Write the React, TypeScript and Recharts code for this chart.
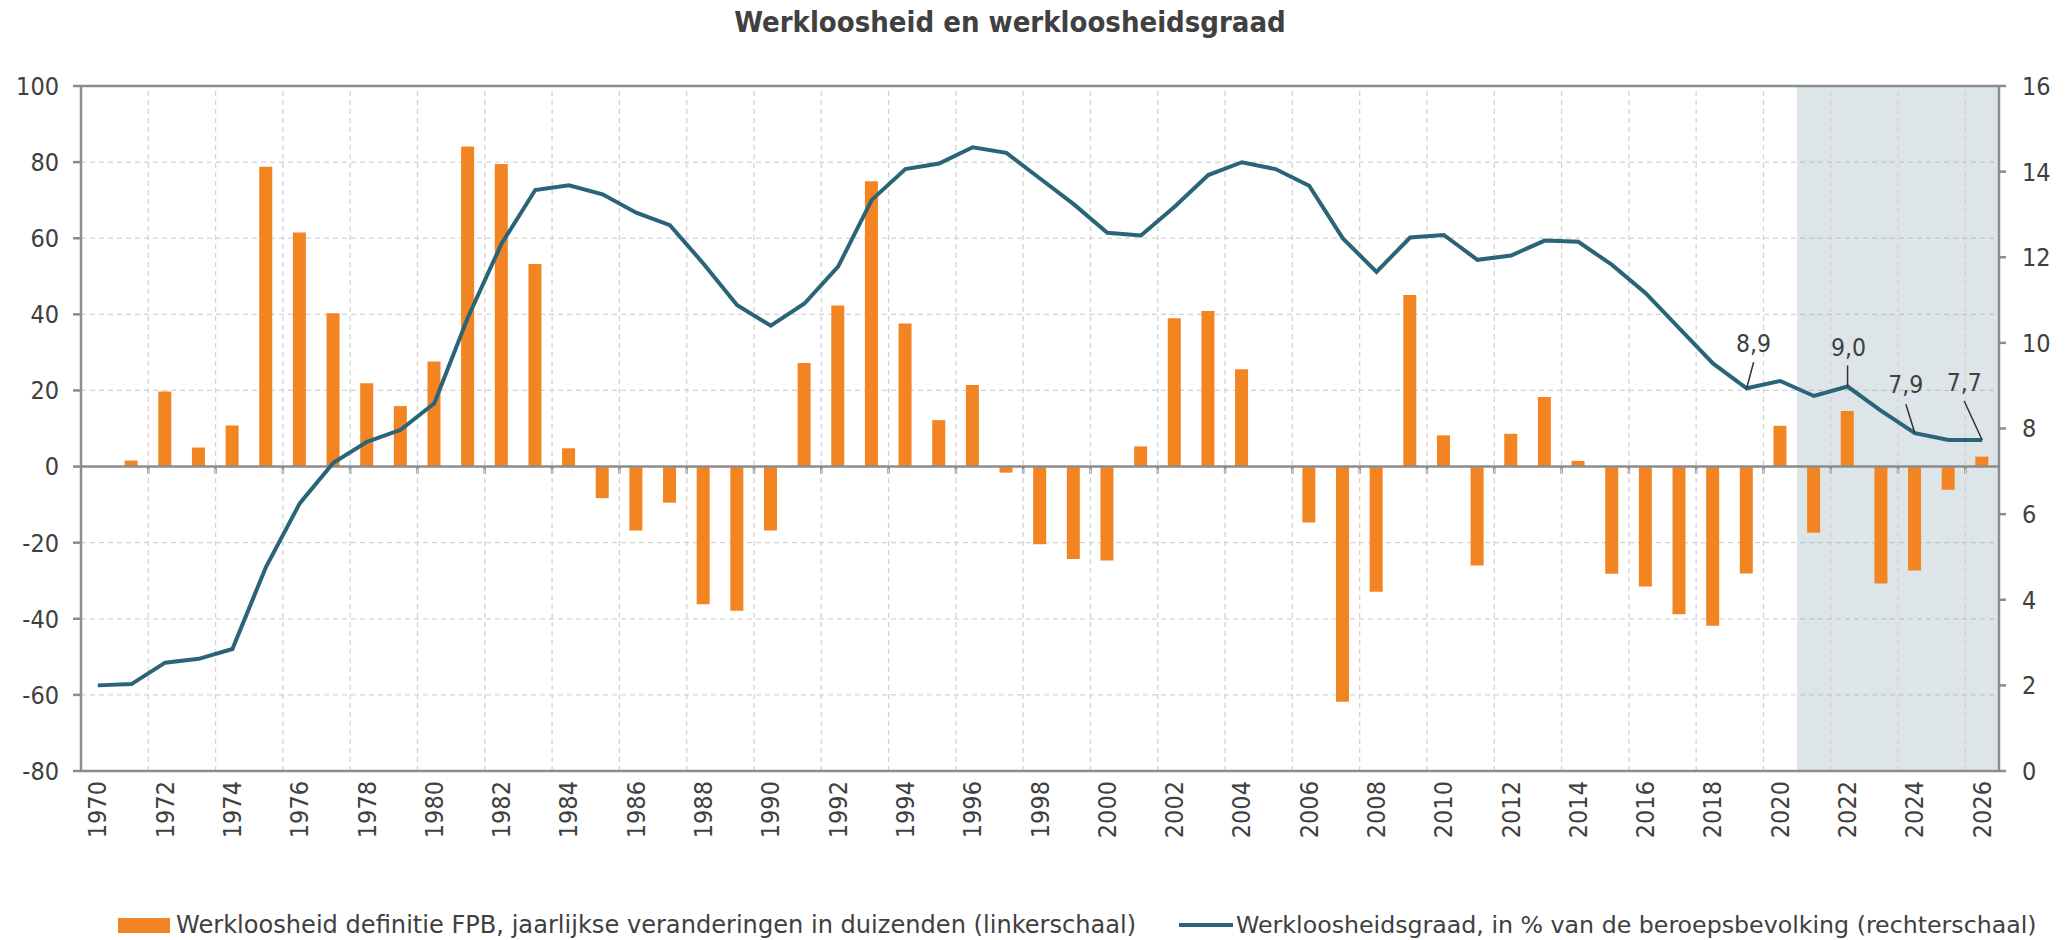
import React from 'react';
import {
  ComposedChart, Bar, Line, XAxis, YAxis, CartesianGrid, ReferenceArea, ReferenceLine,
} from 'recharts';

const years = [
  1970, 1971, 1972, 1973, 1974, 1975, 1976, 1977, 1978, 1979,
  1980, 1981, 1982, 1983, 1984, 1985, 1986, 1987, 1988, 1989,
  1990, 1991, 1992, 1993, 1994, 1995, 1996, 1997, 1998, 1999,
  2000, 2001, 2002, 2003, 2004, 2005, 2006, 2007, 2008, 2009,
  2010, 2011, 2012, 2013, 2014, 2015, 2016, 2017, 2018, 2019,
  2020, 2021, 2022, 2023, 2024, 2025, 2026,
];

// Werkloosheid definitie FPB, jaarlijkse veranderingen in duizenden
const changeThousands: (number | null)[] = [
  null, 1.6, 19.7, 5.0, 10.8, 78.8, 61.5, 40.3, 21.9, 15.9,
  27.6, 84.1, 79.5, 53.2, 4.8, -8.3, -16.8, -9.5, -36.2, -37.9,
  -16.8, 27.2, 42.3, 75.0, 37.6, 12.2, 21.4, -1.6, -20.4, -24.3,
  -24.7, 5.3, 39.0, 40.9, 25.6, 0, -14.7, -61.8, -32.9, 45.1,
  8.2, -26.0, 8.6, 18.3, 1.5, -28.2, -31.5, -38.8, -41.8, -28.1,
  10.7, -17.4, 14.6, -30.7, -27.3, -6.1, 2.6,
];

// Werkloosheidsgraad, in % van de beroepsbevolking
const unemploymentRate = [
  2.0, 2.03, 2.53, 2.62, 2.85, 4.77, 6.25, 7.2, 7.69, 7.97,
  8.59, 10.6, 12.32, 13.57, 13.68, 13.47, 13.04, 12.75, 11.85, 10.88,
  10.4, 10.92, 11.78, 13.34, 14.06, 14.19, 14.57, 14.44, 13.84, 13.24,
  12.57, 12.51, 13.18, 13.92, 14.22, 14.06, 13.67, 12.44, 11.66, 12.46,
  12.52, 11.94, 12.04, 12.39, 12.36, 11.82, 11.16, 10.34, 9.52, 8.94,
  9.11, 8.76, 8.98, 8.41, 7.89, 7.73, 7.73,
];

const noteYears = [2019, 2022, 2024, 2026];
const noteLabels = ['8,9', '9,0', '7,9', '7,7'];

const leftTicks = [-80, -60, -40, -20, 0, 20, 40, 60, 80, 100];
const rightTicks = [0, 2, 4, 6, 8, 10, 12, 14, 16];
const labelYears = [
  1970, 1972, 1974, 1976, 1978, 1980, 1982, 1984, 1986, 1988, 1990, 1992, 1994, 1996,
  1998, 2000, 2002, 2004, 2006, 2008, 2010, 2012, 2014, 2016, 2018, 2020, 2022, 2024, 2026,
];
const gridYears = [
  1971.5, 1973.5, 1975.5, 1977.5, 1979.5, 1981.5, 1983.5, 1985.5, 1987.5, 1989.5,
  1991.5, 1993.5, 1995.5, 1997.5, 1999.5, 2001.5, 2003.5, 2005.5, 2007.5, 2009.5,
  2011.5, 2013.5, 2015.5, 2017.5, 2019.5, 2021.5, 2023.5, 2025.5,
];
const forecastStart = 2020.5;
const forecastEnd = 2026.5;

const title = 'Werkloosheid en werkloosheidsgraad';
const barName = 'Werkloosheid definitie FPB, jaarlijkse veranderingen in duizenden (linkerschaal)';
const lineName = 'Werkloosheidsgraad, in % van de beroepsbevolking (rechterschaal)';

const data = years.map((year, i) => {
  const k = noteYears.indexOf(year);
  return {
    year,
    change: changeThousands[i],
    rate: unemploymentRate[i],
    note: k >= 0 ? noteLabels[k] : null,
  };
});

// styling of the annotation callouts (pixel offsets from the point)
const noteStyle: Record<number, { lx: number; ly: number; tx: number; ty: number }> = {
  2019: { lx: 7, ly: -26, tx: 7, ty: -36 },
  2022: { lx: 0, ly: -21, tx: 1, ty: -31 },
  2024: { lx: -9, ly: -29, tx: -9, ty: -40 },
  2026: { lx: -18, ly: -39, tx: -18, ty: -49 },
};

const FONT = '"DejaVu Sans Condensed", "DejaVu Sans", sans-serif';
const LEGEND_FONT = '"DejaVu Sans", sans-serif';
const TEXT = '#404040';
const AXIS = '#8c8c8c';
const GRID = '#d3d3d3';
const ORANGE = '#F38422';
const TEAL = '#2A6479';

const XTick = (props: any) => {
  const { x, y, payload } = props;
  return (
    <text
      x={x}
      y={y}
      transform={`rotate(-90, ${x}, ${y})`}
      textAnchor="end"
      dominantBaseline="central"
      fill={TEXT}
      fontSize={25}
      fontFamily={FONT}
    >
      {payload.value}
    </text>
  );
};

const NoteDot = (props: any) => {
  const { cx, cy, payload, index } = props;
  if (!payload || !payload.note) return <g key={`d${index}`} />;
  const s = noteStyle[payload.year];
  return (
    <g key={`d${index}`}>
      <line x1={cx} y1={cy} x2={cx + s.lx} y2={cy + s.ly} stroke="#333" strokeWidth={1.5} />
      <text x={cx + s.tx} y={cy + s.ty} textAnchor="middle" fill={TEXT} fontSize={24.5} fontFamily={FONT}>
        {payload.note}
      </text>
    </g>
  );
};

export default function App() {
  return (
    <div style={{ position: 'absolute', left: 0, top: 0, width: 2072, height: 940, background: '#fff', fontFamily: FONT }}>
      <div
        style={{
          position: 'absolute', left: 0, top: 4, width: 2020, textAlign: 'center',
          fontSize: 29, fontWeight: 'bold', color: TEXT, lineHeight: '36px',
        }}
      >
        {title}
      </div>
      <ComposedChart width={2072} height={940} data={data} margin={{ top: 86, right: 0, bottom: 0, left: 0 }}>
        <CartesianGrid yAxisId="left" xAxisId="lab" vertical={false} stroke={GRID} strokeDasharray="5 4" strokeWidth={1.3} />
        {gridYears.map((g) => (
          <ReferenceLine
            key={`v${g}`} xAxisId="lab" yAxisId="left" x={g}
            stroke={GRID} strokeDasharray="5 4" strokeWidth={1.3}
          />
        ))}
        <ReferenceArea
          xAxisId="lab" yAxisId="left" x1={forecastStart} x2={forecastEnd} y1={-80} y2={100}
          fill="#7797a3" fillOpacity={0.25} stroke="none"
        />
        <XAxis
          xAxisId="lab" type="number" dataKey="year" domain={[1969.5, 2026.5]} ticks={labelYears}
          interval={0} height={169} tickSize={0} tickMargin={10} tickLine={false}
          axisLine={{ stroke: AXIS, strokeWidth: 2.5 }} tick={<XTick />} allowDataOverflow
        />
        <YAxis
          yAxisId="left" orientation="left" domain={[-80, 100]} ticks={leftTicks} interval={0} width={81}
          tickSize={8} tickMargin={14} axisLine={{ stroke: AXIS, strokeWidth: 2.5 }}
          tickLine={{ stroke: AXIS, strokeWidth: 2.5 }}
          tick={{ fill: TEXT, fontSize: 25, fontFamily: FONT }}
        />
        <YAxis
          yAxisId="right" orientation="right" domain={[0, 16]} ticks={rightTicks} interval={0} width={73}
          tickSize={7} tickMargin={16} axisLine={{ stroke: AXIS, strokeWidth: 2.5 }}
          tickLine={{ stroke: AXIS, strokeWidth: 2.5 }}
          tick={{ fill: TEXT, fontSize: 25, fontFamily: FONT }}
        />
        <ReferenceLine xAxisId="lab" yAxisId="left" y={100} stroke={AXIS} strokeWidth={2.5} />
        <Bar xAxisId="lab" yAxisId="left" dataKey="change" fill={ORANGE} barSize={13} isAnimationActive={false} />
        <ReferenceLine xAxisId="lab" yAxisId="left" y={0} stroke={AXIS} strokeWidth={2.5} zIndex={350} />
        {gridYears.map((g) => (
          <ReferenceLine
            key={g} xAxisId="lab" yAxisId="left"
            segment={[{ x: g, y: 0 }, { x: g, y: -1.9 }]}
            stroke={AXIS} strokeWidth={2.5} zIndex={350}
          />
        ))}
        <Line
          xAxisId="lab" yAxisId="right" dataKey="rate" stroke={TEAL} strokeWidth={4} type="linear"
          dot={(p: any) => <NoteDot {...p} key={`n${p.index}`} />} activeDot={false} isAnimationActive={false}
        />
      </ComposedChart>
      <div
        style={{
          position: 'absolute', left: 118, top: 906, height: 38, display: 'flex', alignItems: 'center',
          fontSize: 24.1, fontFamily: LEGEND_FONT, color: TEXT, whiteSpace: 'nowrap',
        }}
      >
        <span style={{ display: 'inline-block', width: 52, height: 15, background: ORANGE, marginRight: 6 }} />
        <span>{barName}</span>
      </div>
      <div
        style={{
          position: 'absolute', left: 1179, top: 906, height: 38, display: 'flex', alignItems: 'center',
          fontSize: 23.7, fontFamily: LEGEND_FONT, color: TEXT, whiteSpace: 'nowrap',
        }}
      >
        <span style={{ display: 'inline-block', width: 54, height: 4, background: TEAL, marginRight: 3 }} />
        <span>{lineName}</span>
      </div>
    </div>
  );
}
